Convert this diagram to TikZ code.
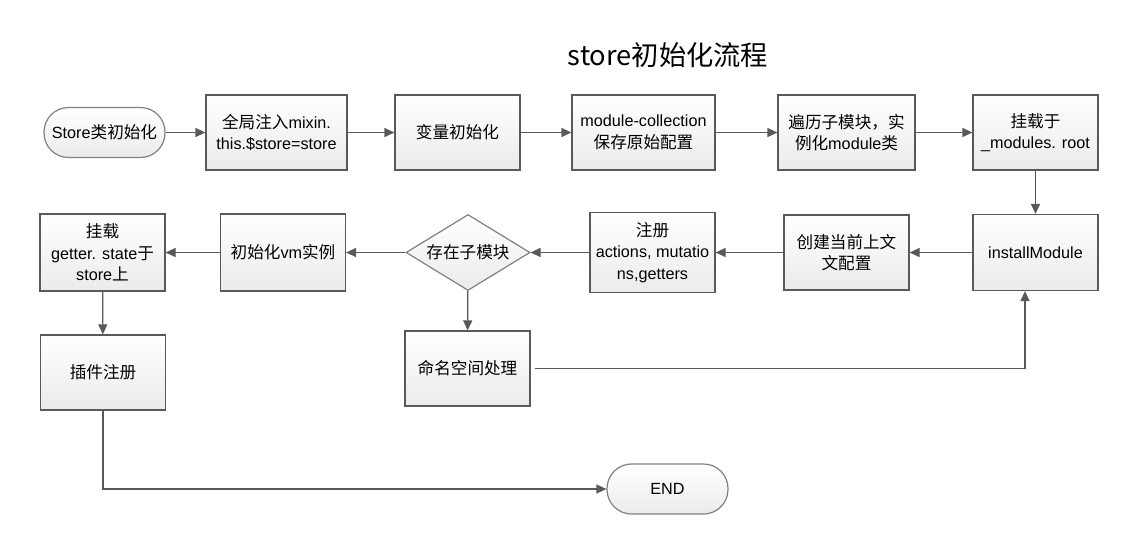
\documentclass[tikz,border=0pt]{standalone}
\usepackage{fontspec}
\setmainfont{Liberation Sans}
\newfontfamily\cjk[Scale=1.025]{Noto Sans CJK SC}
\usetikzlibrary{arrows.meta,shapes.geometric}

\definecolor{linegray}{HTML}{595959}
\definecolor{edgegray}{HTML}{808080}
\definecolor{boxgray}{HTML}{EBEBEB}

\tikzset{
  procbox/.style={draw=linegray, line width=1.2pt, top color=white, bottom color=boxgray,
    minimum width=125pt, minimum height=75pt, align=center, inner sep=2pt,
    font=\fontsize{16.2pt}{21.5pt}\selectfont},
  termbox/.style={procbox, draw=edgegray, rounded corners=24.5pt, minimum width=121pt, minimum height=50pt},
  decbox/.style={diamond, aspect=1.63, draw=edgegray, line width=1.2pt, top color=white, bottom color=boxgray,
    minimum width=124pt, minimum height=76pt, inner sep=0pt, align=center,
    font=\fontsize{16.2pt}{21.5pt}\selectfont},
  flow/.style={draw=linegray, line width=1.2pt, -{Triangle[length=10pt,width=9pt]}}
}

\begin{document}
\begin{tikzpicture}[x=1pt,y=-1pt]
	\useasboundingbox (0,0) rectangle (1139,549);
	% Title
	\node (title) at (668,55) {\cjk\fontsize{26.6pt}{30pt}\selectfont store初始化流程};
	% First row
	\node[termbox] (start) at (104.5,132.5) {Store{\cjk 类初始化}};
	\node[procbox, minimum width=141pt] (mixin) at (276.5,132.5) {{\cjk 全局注入}mixin.\\this.\$store=store};
	\node[procbox] (vars) at (457.5,132.5) {\cjk 变量初始化};
	\node[procbox, minimum width=143pt] (collect) at (643.5,132.5) {module-collection\\{\cjk 保存原始配置}};
	\node[procbox, minimum width=137pt] (walk) at (846.5,132.5) {{\cjk 遍历子模块，实}\\{\cjk 例化}module{\cjk 类}};
	\node[procbox] (mount) at (1035.5,132.5) {{\cjk 挂载于}\\\_modules. root};
	% Second row
	\node[procbox, minimum height=76pt] (install) at (1035.5,252.5) {installModule};
	\node[procbox] (context) at (846.5,252.5) {{\cjk 创建当前上文}\\{\cjk 文配置}};
	\node[procbox, minimum height=80pt] (register) at (652.5,252.5) {{\cjk 注册}\\actions, mutatio\\ns,getters};
	\node[decbox] (haschild) at (468,252.5) {\cjk 存在子模块};
	\node[procbox, minimum height=77pt] (vm) at (283,252.5) {{\cjk 初始化}vm{\cjk 实例}};
	\node[procbox, minimum height=77pt] (getter) at (102.5,252.5) {{\cjk 挂载}\\getter. state{\cjk 于}\\store{\cjk 上}};
	% Third row
	\node[procbox] (plugin) at (103,372.5) {\cjk 插件注册};
	\node[procbox] (namespace) at (467.5,368.5) {\cjk 命名空间处理};
	\node[termbox] (end) at (667.5,489) {END};
	% Connectors
	\draw[flow] (start) -- (mixin);
	\draw[flow] (mixin) -- (vars);
	\draw[flow] (vars) -- (collect);
	\draw[flow] (collect) -- (walk);
	\draw[flow] (walk) -- (mount);
	\draw[flow] (mount) -- (install);
	\draw[flow] (install) -- (context);
	\draw[flow] (context) -- (register);
	\draw[flow] (register) -- (haschild);
	\draw[flow] (haschild) -- (vm);
	\draw[flow] (vm) -- (getter);
	\draw[flow] (getter) -- (plugin);
	\draw[flow] (haschild) -- (namespace);
	\draw[flow] ([xshift=4pt]namespace.east) -| ([xshift=-10.5pt]install.south);
	\draw[flow] (plugin) |- (end);
\end{tikzpicture}
\end{document}
